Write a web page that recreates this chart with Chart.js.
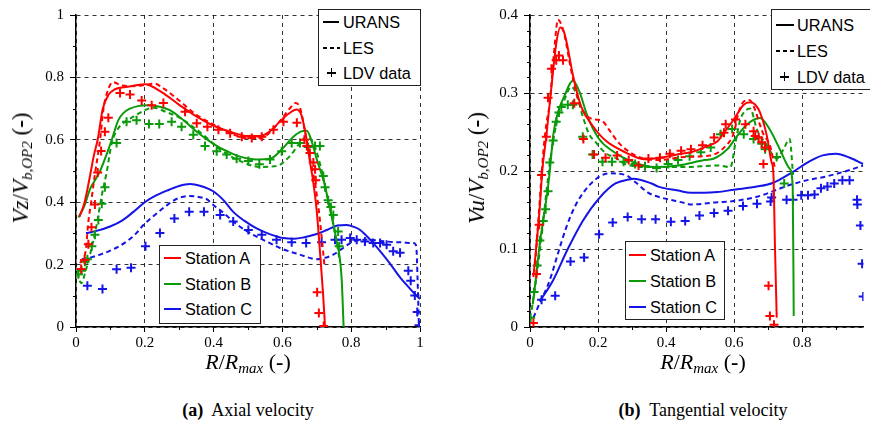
<!DOCTYPE html>
<html><head><meta charset="utf-8">
<script src="https://cdn.jsdelivr.net/npm/chart.js@4.4.1/dist/chart.umd.min.js"></script>
<style>
body{margin:0;width:870px;height:430px;background:#fff;position:relative;overflow:hidden;font-family:'Liberation Serif',serif;color:#000;}
canvas{position:absolute;top:0;}
#c1{left:0}
#c2{left:440px}
.lbl{position:absolute;white-space:nowrap;color:#000;line-height:1;}
.ytitle{font-size:23px;transform:translate(-50%,-50%) rotate(-90deg);}
.xtitle{font-size:22px;transform:translate(-50%,-50%);}
.cap{font-size:18px;transform:translate(-50%,-50%);}
.lbl sub{font-size:15px;vertical-align:-4px;}
.leg{position:absolute;z-index:5;color:#000;border:1.3px solid #222;background:#fff;font-family:'Liberation Sans',Arial,sans-serif;font-size:16.3px;box-sizing:border-box;}
.row{position:absolute;white-space:nowrap;line-height:18px;height:18px;color:#000;}
.ln{position:absolute;height:2px;}
.sol{background:#000;}
.dsh{background:repeating-linear-gradient(90deg,#000 0 4px,transparent 4px 7px);}
.ph{position:absolute;width:9px;height:1.5px;background:#000;}
.pv{position:absolute;width:1.5px;height:9px;background:#000;}
</style>
</head><body>
<canvas id="c1" width="430" height="360"></canvas>
<canvas id="c2" width="430" height="360"></canvas>

<div class="lbl ytitle" style="left:22px;top:168px"><i>Vz</i>/<i>V</i><sub><i>b,OP2</i></sub> (<b>-</b>)</div>
<div class="lbl ytitle" style="left:478px;top:168px"><i>Vu</i>/<i>V</i><sub><i>b,OP2</i></sub> (<b>-</b>)</div>
<div class="lbl xtitle" style="left:248px;top:363px"><i>R</i>/<i>R</i><sub><i>max</i></sub> (<b>-</b>)</div>
<div class="lbl xtitle" style="left:703px;top:363px"><i>R</i>/<i>R</i><sub><i>max</i></sub> (<b>-</b>)</div>
<div class="lbl cap" style="left:248px;top:410px"><b>(a)</b>&nbsp; Axial velocity</div>
<div class="lbl cap" style="left:703px;top:410px"><b>(b)</b>&nbsp; Tangential velocity</div>

<div class="leg" style="left:318px;top:9px;width:103px;height:77px">
  <div class="ln sol" style="left:4px;top:11px;width:16px"></div><div class="row" style="left:24px;top:3px">URANS</div>
  <div class="ln dsh" style="left:4px;top:37px;width:17px"></div><div class="row" style="left:24px;top:29px">LES</div>
  <div class="ph" style="left:8px;top:62px"></div><div class="pv" style="left:11.7px;top:58.2px"></div><div class="row" style="left:24px;top:54px">LDV data</div>
</div>
<div class="leg" style="left:771px;top:9px;width:102px;height:81px">
  <div class="ln sol" style="left:4px;top:14px;width:18px"></div><div class="row" style="left:25px;top:6px">URANS</div>
  <div class="ln dsh" style="left:4px;top:40px;width:18px"></div><div class="row" style="left:25px;top:32px">LES</div>
  <div class="ph" style="left:8px;top:66px"></div><div class="pv" style="left:11.7px;top:62.2px"></div><div class="row" style="left:25px;top:58px">LDV data</div>
</div>
<div class="leg" style="left:159px;top:245px;width:102px;height:79px">
  <div class="ln" style="left:4px;top:11px;width:17px;background:#ff0000"></div><div class="row" style="left:25px;top:3px">Station A</div>
  <div class="ln" style="left:4px;top:37px;width:17px;background:#0a9a0a"></div><div class="row" style="left:25px;top:29px">Station B</div>
  <div class="ln" style="left:4px;top:62px;width:17px;background:#1414e6"></div><div class="row" style="left:25px;top:54px">Station C</div>
</div>
<div class="leg" style="left:625px;top:241px;width:100px;height:79px">
  <div class="ln" style="left:3px;top:12px;width:17px;background:#ff0000"></div><div class="row" style="left:24px;top:4px">Station A</div>
  <div class="ln" style="left:3px;top:38px;width:17px;background:#0a9a0a"></div><div class="row" style="left:24px;top:30px">Station B</div>
  <div class="ln" style="left:3px;top:64px;width:17px;background:#1414e6"></div><div class="row" style="left:24px;top:56px">Station C</div>
</div>

<script>
// ---------- Axial velocity (a) ----------
const axA_urans = [[0.01,0.353],[0.025,0.4],[0.04,0.48],[0.052,0.55],[0.063,0.6],[0.078,0.7],[0.095,0.745],[0.113,0.762],[0.15,0.77],[0.2,0.778],[0.25,0.752],[0.3,0.712],[0.35,0.675],[0.4,0.645],[0.45,0.625],[0.5,0.612],[0.535,0.612],[0.565,0.628],[0.593,0.659],[0.62,0.685],[0.641,0.697],[0.655,0.68],[0.669,0.61],[0.68,0.53],[0.689,0.47],[0.7,0.37],[0.71,0.23],[0.718,0.11],[0.724,0.0]];
const axA_les = [[0.012,0.205],[0.029,0.25],[0.035,0.328],[0.044,0.4],[0.055,0.49],[0.07,0.6],[0.08,0.7],[0.093,0.76],[0.108,0.785],[0.13,0.775],[0.17,0.772],[0.2,0.776],[0.23,0.78],[0.25,0.768],[0.3,0.726],[0.35,0.68],[0.39,0.655],[0.45,0.62],[0.5,0.605],[0.535,0.605],[0.565,0.625],[0.6,0.67],[0.625,0.705],[0.638,0.718],[0.652,0.7],[0.665,0.63],[0.678,0.55],[0.69,0.49],[0.703,0.4],[0.714,0.29],[0.722,0.2]];
const axA_ldv = [[0.015,0.186],[0.025,0.215],[0.036,0.265],[0.045,0.32],[0.055,0.393],[0.063,0.495],[0.073,0.564],[0.084,0.626],[0.094,0.671],[0.128,0.75],[0.157,0.745],[0.191,0.726],[0.22,0.711],[0.254,0.718],[0.317,0.69],[0.351,0.653],[0.382,0.642],[0.414,0.632],[0.448,0.621],[0.482,0.61],[0.511,0.606],[0.54,0.61],[0.574,0.632],[0.603,0.658],[0.642,0.655],[0.664,0.6],[0.671,0.58],[0.68,0.558],[0.69,0.527],[0.695,0.506],[0.697,0.47],[0.701,0.111],[0.706,0.045],[0.72,0.003]];
const axB_urans = [[0.007,0.351],[0.025,0.39],[0.041,0.443],[0.055,0.47],[0.07,0.5],[0.088,0.55],[0.104,0.6],[0.123,0.663],[0.14,0.688],[0.157,0.7],[0.18,0.708],[0.205,0.711],[0.24,0.707],[0.273,0.695],[0.31,0.665],[0.351,0.626],[0.39,0.594],[0.419,0.574],[0.448,0.559],[0.477,0.546],[0.525,0.537],[0.564,0.539],[0.598,0.569],[0.632,0.61],[0.655,0.627],[0.671,0.629],[0.685,0.595],[0.7,0.537],[0.722,0.46],[0.74,0.37],[0.756,0.285],[0.772,0.159],[0.778,0.0]];
const axB_les = [[0.004,0.175],[0.015,0.14],[0.028,0.18],[0.041,0.233],[0.06,0.327],[0.075,0.422],[0.089,0.495],[0.104,0.59],[0.123,0.637],[0.145,0.66],[0.167,0.674],[0.2,0.695],[0.225,0.703],[0.26,0.69],[0.302,0.67],[0.37,0.616],[0.419,0.569],[0.477,0.532],[0.535,0.513],[0.583,0.516],[0.622,0.548],[0.651,0.59],[0.671,0.61],[0.69,0.59],[0.71,0.52],[0.73,0.42],[0.75,0.32],[0.767,0.21]];
const axB_ldv = [[0.007,0.169],[0.016,0.18],[0.026,0.209],[0.033,0.217],[0.046,0.259],[0.055,0.296],[0.065,0.343],[0.075,0.395],[0.084,0.448],[0.118,0.59],[0.147,0.658],[0.176,0.663],[0.212,0.651],[0.242,0.651],[0.278,0.658],[0.307,0.642],[0.341,0.616],[0.375,0.58],[0.409,0.563],[0.438,0.553],[0.467,0.539],[0.501,0.532],[0.533,0.522],[0.564,0.537],[0.598,0.563],[0.627,0.59],[0.651,0.59],[0.675,0.577],[0.695,0.58],[0.709,0.58],[0.719,0.484],[0.724,0.448],[0.733,0.406],[0.741,0.385],[0.748,0.359],[0.762,0.306],[0.765,0.259]];
const axC_urans = [[0.029,0.301],[0.06,0.308],[0.099,0.322],[0.135,0.342],[0.167,0.369],[0.2,0.4],[0.23,0.42],[0.264,0.437],[0.3,0.452],[0.331,0.458],[0.36,0.453],[0.399,0.435],[0.43,0.405],[0.457,0.369],[0.49,0.34],[0.525,0.316],[0.565,0.297],[0.603,0.285],[0.635,0.283],[0.661,0.287],[0.7,0.298],[0.729,0.311],[0.76,0.325],[0.787,0.327],[0.81,0.32],[0.826,0.311],[0.855,0.28],[0.884,0.243],[0.915,0.2],[0.942,0.159],[0.965,0.13],[0.985,0.106],[1.0,0.09]];
const axC_les = [[0.017,0.217],[0.04,0.222],[0.07,0.232],[0.11,0.25],[0.147,0.274],[0.175,0.3],[0.196,0.327],[0.23,0.36],[0.264,0.39],[0.295,0.412],[0.33,0.42],[0.36,0.416],[0.38,0.41],[0.4,0.39],[0.43,0.365],[0.457,0.338],[0.5,0.305],[0.554,0.274],[0.6,0.25],[0.651,0.232],[0.7,0.217],[0.725,0.222],[0.748,0.232],[0.775,0.252],[0.797,0.269],[0.82,0.278],[0.845,0.28],[0.884,0.276],[0.93,0.272],[0.981,0.269],[0.989,0.26],[0.993,0.15],[0.997,0.0]];
const axC_ldv = [[0.033,0.132],[0.077,0.122],[0.118,0.185],[0.16,0.19],[0.202,0.259],[0.244,0.301],[0.286,0.348],[0.329,0.369],[0.372,0.369],[0.419,0.359],[0.457,0.338],[0.501,0.311],[0.54,0.296],[0.583,0.28],[0.627,0.272],[0.669,0.269],[0.714,0.272],[0.753,0.28],[0.772,0.28],[0.797,0.285],[0.816,0.28],[0.84,0.274],[0.864,0.269],[0.884,0.269],[0.903,0.264],[0.922,0.243],[0.942,0.238],[0.966,0.18],[0.973,0.148],[0.985,0.101],[0.992,0.048],[0.997,0.006]];

// ---------- Tangential velocity (b) ----------
const tgA_urans = [[0.01,0.064],[0.02,0.11],[0.029,0.155],[0.036,0.2],[0.048,0.245],[0.063,0.308],[0.077,0.363],[0.089,0.384],[0.1,0.378],[0.11,0.36],[0.126,0.323],[0.15,0.283],[0.184,0.258],[0.222,0.239],[0.28,0.224],[0.338,0.215],[0.396,0.218],[0.444,0.222],[0.473,0.224],[0.522,0.232],[0.551,0.238],[0.57,0.249],[0.599,0.266],[0.628,0.285],[0.647,0.288],[0.662,0.285],[0.676,0.275],[0.696,0.245],[0.71,0.211],[0.715,0.199],[0.72,0.1],[0.725,0.012]];
const tgA_les = [[0.015,0.08],[0.03,0.17],[0.039,0.224],[0.048,0.26],[0.058,0.287],[0.072,0.359],[0.082,0.394],[0.09,0.39],[0.101,0.375],[0.121,0.329],[0.145,0.287],[0.169,0.27],[0.193,0.266],[0.213,0.264],[0.232,0.253],[0.261,0.236],[0.29,0.225],[0.319,0.218],[0.377,0.214],[0.454,0.218],[0.531,0.22],[0.57,0.23],[0.599,0.249],[0.613,0.275],[0.628,0.289],[0.645,0.291],[0.66,0.28],[0.675,0.26],[0.686,0.247],[0.705,0.233],[0.72,0.203]];
const tgA_ldv = [[0.01,0.005],[0.019,0.068],[0.027,0.131],[0.034,0.195],[0.048,0.244],[0.053,0.294],[0.063,0.331],[0.077,0.342],[0.085,0.348],[0.097,0.342],[0.13,0.287],[0.157,0.241],[0.188,0.221],[0.222,0.217],[0.256,0.22],[0.29,0.214],[0.319,0.207],[0.348,0.216],[0.382,0.217],[0.411,0.222],[0.444,0.226],[0.473,0.228],[0.507,0.233],[0.541,0.243],[0.57,0.249],[0.575,0.26],[0.604,0.266],[0.633,0.26],[0.657,0.251],[0.662,0.245],[0.672,0.243],[0.681,0.237],[0.691,0.23],[0.686,0.209],[0.701,0.053],[0.705,0.014],[0.717,0.003]];
const tgB_urans = [[0.008,0.029],[0.018,0.065],[0.029,0.108],[0.04,0.14],[0.05,0.17],[0.058,0.199],[0.068,0.245],[0.082,0.275],[0.101,0.296],[0.115,0.31],[0.126,0.316],[0.145,0.302],[0.169,0.27],[0.203,0.241],[0.241,0.226],[0.3,0.212],[0.367,0.205],[0.435,0.207],[0.512,0.214],[0.541,0.216],[0.58,0.228],[0.609,0.245],[0.638,0.26],[0.676,0.268],[0.705,0.253],[0.734,0.228],[0.763,0.203],[0.772,0.18],[0.775,0.014]];
const tgB_les = [[0.005,0.022],[0.019,0.064],[0.035,0.12],[0.05,0.18],[0.065,0.23],[0.08,0.265],[0.1,0.29],[0.121,0.308],[0.135,0.3],[0.155,0.27],[0.174,0.247],[0.193,0.237],[0.222,0.223],[0.251,0.217],[0.28,0.209],[0.357,0.205],[0.454,0.205],[0.551,0.207],[0.589,0.205],[0.604,0.237],[0.618,0.266],[0.635,0.278],[0.647,0.28],[0.667,0.253],[0.696,0.233],[0.725,0.216],[0.745,0.228],[0.763,0.241],[0.773,0.195]];
const tgB_ldv = [[0.002,0.012],[0.012,0.045],[0.021,0.079],[0.029,0.111],[0.039,0.136],[0.046,0.151],[0.053,0.174],[0.058,0.211],[0.068,0.239],[0.077,0.263],[0.085,0.275],[0.092,0.282],[0.111,0.285],[0.126,0.285],[0.155,0.244],[0.184,0.221],[0.213,0.212],[0.241,0.212],[0.275,0.212],[0.309,0.209],[0.338,0.206],[0.372,0.204],[0.406,0.209],[0.435,0.214],[0.469,0.219],[0.502,0.224],[0.531,0.23],[0.56,0.247],[0.594,0.254],[0.628,0.247],[0.657,0.241],[0.681,0.235],[0.691,0.228],[0.725,0.218],[0.747,0.184]];
const tgC_urans = [[0.029,0.033],[0.068,0.06],[0.111,0.1],[0.155,0.136],[0.203,0.165],[0.251,0.184],[0.29,0.189],[0.304,0.19],[0.357,0.184],[0.377,0.18],[0.435,0.175],[0.473,0.172],[0.512,0.172],[0.551,0.173],[0.599,0.176],[0.667,0.18],[0.715,0.185],[0.773,0.199],[0.82,0.212],[0.86,0.22],[0.899,0.222],[0.94,0.217],[0.979,0.209]];
const tgC_les = [[0.01,0.012],[0.024,0.026],[0.058,0.06],[0.082,0.094],[0.106,0.127],[0.135,0.157],[0.184,0.186],[0.232,0.197],[0.28,0.195],[0.309,0.186],[0.348,0.172],[0.377,0.167],[0.454,0.159],[0.473,0.157],[0.551,0.16],[0.589,0.161],[0.667,0.167],[0.763,0.182],[0.812,0.188],[0.87,0.193],[0.93,0.2],[0.979,0.207]];
const tgC_ldv = [[0.034,0.035],[0.074,0.04],[0.119,0.084],[0.159,0.089],[0.203,0.119],[0.243,0.134],[0.287,0.141],[0.328,0.138],[0.369,0.138],[0.414,0.135],[0.456,0.136],[0.498,0.143],[0.541,0.146],[0.582,0.149],[0.626,0.155],[0.667,0.158],[0.707,0.161],[0.71,0.166],[0.754,0.163],[0.773,0.163],[0.797,0.169],[0.817,0.169],[0.836,0.17],[0.855,0.178],[0.874,0.18],[0.894,0.184],[0.918,0.188],[0.939,0.188],[0.961,0.163],[0.962,0.157],[0.971,0.13],[0.976,0.081],[0.979,0.039]];

// ---------- ticks ----------
const axXTicks = [0,0.2,0.4,0.6,0.8,1];
const axXTickLabels = ['0','0.2','0.4','0.6','0.8','1'];
const axYTicks = [0,0.2,0.4,0.6,0.8,1];
const axYTickLabels = ['0','0.2','0.4','0.6','0.8','1'];
const axXMinor = [0.1,0.3,0.5,0.7,0.9];
const axYMinor = [0.1,0.3,0.5,0.7,0.9];
const tgXTicks = [0,0.2,0.4,0.6,0.8];
const tgXTickLabels = ['0','0.2','0.4','0.6','0.8'];
const tgYTicks = [0,0.1,0.2,0.3,0.4];
const tgYTickLabels = ['0','0.1','0.2','0.3','0.4'];
const tgXMinor = [0.1,0.3,0.5,0.7,0.9];
const tgYMinor = [0.02,0.04,0.06,0.08,0.12,0.14,0.16,0.18,0.22,0.24,0.26,0.28,0.32,0.34,0.36,0.38];

const RED = '#ff0000', GREEN = '#0a9a0a', BLUE = '#1414e6';

const minorTicks = {
  id: 'minorTicks',
  afterDraw(chart, args, opts) {
    const ctx = chart.ctx, xs = chart.scales.x, ys = chart.scales.y;
    ctx.save();
    ctx.strokeStyle = '#000'; ctx.lineWidth = 1;
    (opts.x || []).forEach(v => {
      if (v > xs.max) return;
      const p = Math.round(xs.getPixelForValue(v)) + 0.5;
      ctx.beginPath(); ctx.moveTo(p, ys.bottom); ctx.lineTo(p, ys.bottom + 3); ctx.stroke();
    });
    (opts.y || []).forEach(v => {
      const p = Math.round(ys.getPixelForValue(v)) + 0.5;
      ctx.beginPath(); ctx.moveTo(xs.left - 3, p); ctx.lineTo(xs.left, p); ctx.stroke();
    });
    ctx.restore();
  }
};

const pts = a => a.map(([x, y]) => ({x, y}));

function lineDs(data, color, dashed) {
  return {data: pts(data), borderColor: color, backgroundColor: color, borderWidth: 2,
    borderDash: dashed ? [5, 3.5] : [], pointRadius: 0, showLine: true, fill: false,
    cubicInterpolationMode: 'monotone'};
}
function markDs(data, color) {
  return {data: pts(data), borderColor: color, backgroundColor: color, borderWidth: 2,
    pointStyle: 'cross', pointRadius: 4.5, showLine: false};
}

function makeChart(id, c) {
  const datasets = [
    markDs(c.A[2], RED), lineDs(c.A[0], RED, false), lineDs(c.A[1], RED, true),
    markDs(c.B[2], GREEN), lineDs(c.B[0], GREEN, false), lineDs(c.B[1], GREEN, true),
    markDs(c.C[2], BLUE), lineDs(c.C[0], BLUE, false), lineDs(c.C[1], BLUE, true)
  ];
  const tickFont = {family: "'Liberation Serif', serif", size: 15};
  new Chart(document.getElementById(id), {
    type: 'scatter',
    data: {datasets},
    options: {
      responsive: false, animation: false, devicePixelRatio: 1,
      layout: {padding: {top: 10, right: c.padRight, left: 0, bottom: 0}},
      plugins: {legend: {display: false}, tooltip: {enabled: false},
        minorTicks: {x: c.xMinor, y: c.yMinor}},
      scales: {
        x: {type: 'linear', min: 0, max: c.xMax,
          afterBuildTicks: s => { s.ticks = c.xTicks.map(v => ({value: v})); },
          afterFit: s => { s.height = 33; },
          ticks: {font: tickFont, color: '#000', padding: 2, maxRotation: 0, autoSkip: false,
            callback: (v, i) => c.xLabels[i]},
          grid: {color: 'rgba(0,0,0,0.8)', lineWidth: 1, drawTicks: true, tickLength: 5,
            tickColor: '#000', tickBorderDash: [], tickWidth: 1},
          border: {display: true, color: '#000', width: 1.5, dash: [4, 4]}},
        y: {type: 'linear', min: 0, max: c.yMax,
          afterBuildTicks: s => { s.ticks = c.yTicks.map(v => ({value: v})); },
          afterFit: s => { s.width = c.yWidth; },
          ticks: {font: tickFont, color: '#000', padding: 6, autoSkip: false,
            callback: (v, i) => c.yLabels[i]},
          grid: {color: 'rgba(0,0,0,0.8)', lineWidth: 1, drawTicks: true, tickLength: 6,
            tickColor: '#000', tickBorderDash: [], tickWidth: 1},
          border: {display: true, color: '#000', width: 1.5, dash: [4, 4]}}
      }
    },
    plugins: [minorTicks]
  });
}

makeChart('c1', {
  A: [axA_urans, axA_les, axA_ldv], B: [axB_urans, axB_les, axB_ldv], C: [axC_urans, axC_les, axC_ldv],
  xMax: 1, yMax: 1, xTicks: axXTicks, xLabels: axXTickLabels, yTicks: axYTicks, yLabels: axYTickLabels,
  xMinor: axXMinor, yMinor: axYMinor, yWidth: 76, padRight: 10
});
makeChart('c2', {
  A: [tgA_urans, tgA_les, tgA_ldv], B: [tgB_urans, tgB_les, tgB_ldv], C: [tgC_urans, tgC_les, tgC_ldv],
  xMax: 0.98, yMax: 0.4, xTicks: tgXTicks, xLabels: tgXTickLabels, yTicks: tgYTicks, yLabels: tgYTickLabels,
  xMinor: tgXMinor, yMinor: tgYMinor, yWidth: 90, padRight: 2
});
</script>
</body></html>
